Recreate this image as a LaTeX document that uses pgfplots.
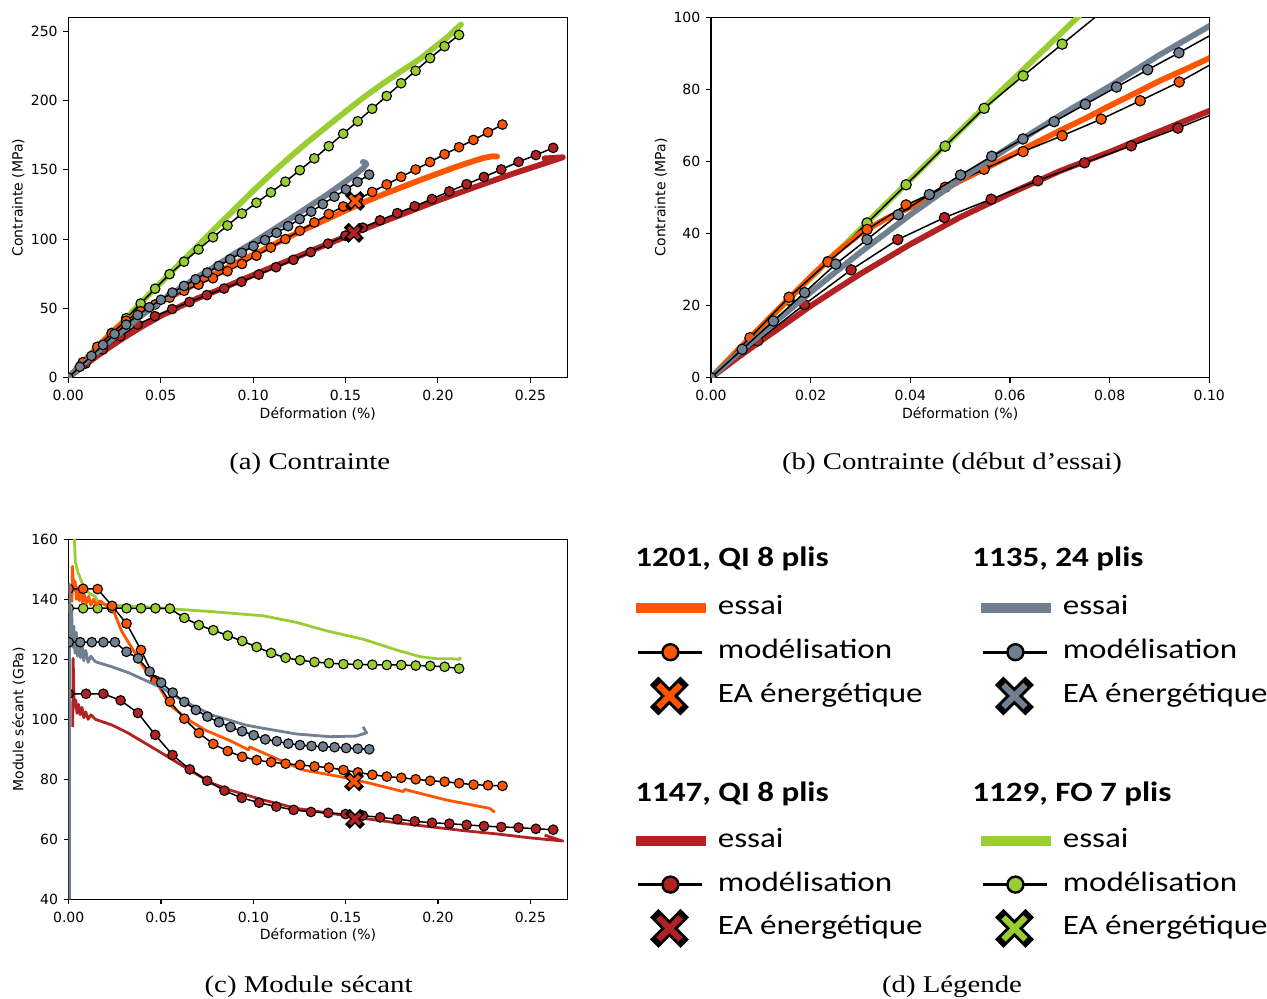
\documentclass[border=0pt]{standalone}
\usepackage{fontspec}
\setmainfont{DejaVu Sans}
\newfontfamily\capfont[FakeStretch=1.2]{Liberation Serif}
\newfontfamily\carlito[FakeStretch=1.18]{Carlito}
\usepackage{pgfplots}
\usepackage{pgfplotstable}
\pgfplotsset{compat=1.18}

\definecolor{cOr}{RGB}{255,85,0}
\definecolor{cGy}{RGB}{112,128,144}
\definecolor{cRd}{RGB}{178,34,34}
\definecolor{cGn}{RGB}{154,205,50}

% ---------- models (x = strain %, s = stress MPa, E = secant modulus GPa)
\pgfplotstableread{
x s E
0 0 143.5
0.00783 11.1 143.5
0.01566 22.3 143.4
0.02349 32.1 137.8
0.03132 41.1 131.9
0.03915 47.9 123.1
0.04698 52.8 112.9
0.05481 57.8 105.9
0.06264 62.7 100.2
0.07047 67.1 95.4
0.0783 71.7 91.8
0.08613 76.8 89.4
0.09396 82.0 87.5
0.10179 88.0 86.4
0.10962 93.9 85.7
0.11745 100.0 85.2
0.12528 106.0 84.8
0.13311 112.0 84.3
0.14094 118.1 83.9
0.14877 123.5 83.1
0.1566 128.7 82.3
0.16443 134.0 81.5
0.17226 139.4 80.9
0.18009 144.9 80.5
0.18792 150.2 80.0
0.19575 155.6 79.5
0.20358 161.2 79.2
0.21141 166.3 78.7
0.21924 171.5 78.2
0.22707 177.0 78.0
0.2349 182.6 77.8
}\modOr
\pgfplotstableread{
x s E
0 0 125.7
0.00626 7.87 125.7
0.01252 15.7 125.7
0.01878 23.6 125.7
0.02504 31.5 125.7
0.0313 38.3 122.5
0.03756 45.2 120.3
0.04382 50.8 115.9
0.05008 56.2 112.2
0.05634 61.4 108.9
0.0626 66.2 105.8
0.06886 71.0 103.1
0.07512 75.8 100.9
0.08138 80.6 99.0
0.08764 85.4 97.4
0.0939 90.1 96.0
0.10016 94.9 94.7
0.10642 99.3 93.3
0.11268 104.5 92.7
0.11894 109.3 91.9
0.1252 114.4 91.4
0.13146 119.8 91.1
0.13772 125.2 90.9
0.14398 130.6 90.7
0.15024 135.8 90.4
0.1565 141.2 90.2
0.16276 146.5 90.0
}\modGy
\pgfplotstableread{
x s E
0 0 108.5
0.00937 10.2 108.5
0.01874 20.3 108.5
0.02811 29.9 106.3
0.03748 38.3 102.1
0.04685 44.4 94.8
0.05622 49.5 88.1
0.06559 54.6 83.3
0.07496 59.6 79.5
0.08433 64.3 76.2
0.0937 69.2 73.8
0.10307 74.4 72.2
0.11244 79.7 70.9
0.12181 85.0 69.8
0.13118 90.6 69.1
0.14055 96.7 68.8
0.14992 102.5 68.4
0.15929 108.2 67.9
0.16866 113.5 67.3
0.17803 118.7 66.7
0.1874 123.7 66.0
0.19677 128.9 65.5
0.20614 134.4 65.2
0.21551 139.6 64.8
0.22488 144.8 64.4
0.23425 150.2 64.1
0.24362 155.7 63.9
0.25299 160.6 63.5
0.26236 165.8 63.2
}\modRd
\pgfplotstableread{
x s E
0 0 137.0
0.00783 10.7 137.0
0.01566 21.5 137.0
0.02349 32.2 137.1
0.03132 42.9 137.0
0.03915 53.5 137.0
0.04698 64.2 137.0
0.05481 74.7 136.9
0.06264 83.7 133.8
0.07047 92.5 131.4
0.0783 101.3 129.7
0.08613 109.8 127.9
0.09396 118.4 126.1
0.10179 126.2 124.1
0.10962 133.7 122.1
0.11745 141.4 120.5
0.12528 149.7 119.7
0.13311 158.2 119.1
0.14094 167.0 118.7
0.14877 176.0 118.4
0.1566 185.0 118.3
0.16443 194.0 118.2
0.17226 203.2 118.1
0.18009 212.4 118.1
0.18792 221.4 117.9
0.19575 230.5 117.8
0.20358 239.1 117.5
0.21141 247.3 116.9
}\modGn

% ---------- tests, stress
\pgfplotstableread{
x s
0 0
0.005 7.1
0.01 14.1
0.015 21.1
0.02 28.0
0.025 34.5
0.03 40.0
0.035 44.0
0.04 47.3
0.045 50.8
0.05 54.6
0.055 58.0
0.06 61.5
0.065 65.0
0.07 68.5
0.075 71.8
0.08 75.4
0.085 78.8
0.09 82.3
0.095 85.4
0.1 88.6
0.11 95.3
0.12 102.0
0.13 108.3
0.14 114.4
0.15 120.6
0.16 126.6
0.17 132.0
0.18 137.2
0.19 142.4
0.2 147.3
0.21 152.2
0.22 156.6
0.225 158.6
0.2295 159.7
0.232 159.6
}\essOrS
\pgfplotstableread{
x s
0 0
0.005 6.2
0.01 12.1
0.015 17.9
0.02 23.7
0.025 29.3
0.03 34.8
0.04 45.2
0.05 55.0
0.06 64.1
0.07 72.7
0.08 80.8
0.09 89.5
0.1 97.5
0.11 106.0
0.12 114.5
0.13 123.3
0.14 132.0
0.15 141.5
0.155 146.3
0.1595 151.0
0.1613 154.0
0.1605 155.3
0.1594 155.6
}\essGyS
\pgfplotstableread{
x s
0 0
0.005 5.2
0.01 10.2
0.015 15.0
0.02 19.9
0.025 24.4
0.03 28.8
0.035 32.9
0.04 37.0
0.05 44.5
0.06 51.1
0.07 57.3
0.08 62.6
0.09 68.3
0.1 74.0
0.11 79.6
0.12 85.0
0.13 90.7
0.14 96.3
0.15 101.7
0.16 107.2
0.17 112.4
0.18 117.5
0.19 122.7
0.2 127.8
0.21 132.7
0.22 137.5
0.23 142.2
0.24 146.9
0.25 151.3
0.26 155.6
0.2676 159.0
0.2577 158.2
}\essRdS
\pgfplotstableread{
x s
0 0
0.01 14.0
0.02 27.6
0.03 41.2
0.04 54.9
0.05 68.5
0.06 81.9
0.07 95.2
0.08 108.5
0.09 121.6
0.1 134.8
0.11 147.3
0.12 159.2
0.13 170.6
0.14 181.3
0.15 192.0
0.16 202.4
0.17 212.0
0.18 221.0
0.19 229.7
0.2 240.3
0.205 245.5
0.21 251.8
0.2125 254.8
}\essGnS

% ---------- tests, secant modulus
\pgfplotstableread{
x E
0.0018 139
0.0020 151
0.0028 143
0.0035 146
0.0042 140
0.0050 144
0.0058 139.5
0.0066 142.5
0.0075 139
0.0085 141.5
0.0095 138.5
0.0108 141
0.0120 138
0.0135 140
0.0150 138
0.0170 139.5
0.0200 138
0.0234 137.5
0.0260 133.5
0.0288 129.2
0.0315 126.5
0.0343 123.7
0.0370 121
0.0397 118
0.0450 113.7
0.0490 110.8
0.0530 106.5
0.0559 104.2
0.0600 102.2
0.0649 99.8
0.0739 96.4
0.0866 93.1
0.0974 89.8
0.0980 90.8
0.1143 86.4
0.1269 83.1
0.1468 80.9
0.1630 78.7
0.1811 75.9
0.1820 76.6
0.2045 73.1
0.2189 71.4
0.2280 70.3
0.2307 69.0
}\essOrE
\pgfplotstableread{
x E
0.0004 40
0.0004 145
0.0010 128
0.0016 136
0.0022 124
0.0028 131
0.0034 122
0.0041 129
0.0048 121
0.0056 127
0.0064 120.5
0.0072 125
0.0082 119.5
0.0092 123
0.0105 119
0.0120 121
0.0144 119.2
0.0234 117.5
0.0325 115.5
0.0415 113.0
0.0505 110.5
0.0595 107.0
0.0685 104.2
0.0775 101.4
0.0866 99.8
0.0956 98.1
0.1053 97.0
0.1234 95.1
0.1414 94.2
0.1558 94.4
0.1613 95.5
0.1594 97.5
}\essGyE
\pgfplotstableread{
x E
0.0022 97.5
0.0024 120.3
0.0030 104
0.0038 106.5
0.0045 102
0.0053 105
0.0062 101.5
0.0072 104
0.0082 100.5
0.0092 102.5
0.0105 100
0.0120 101.5
0.0144 100
0.0234 98.1
0.0325 95.3
0.0415 92.0
0.0505 88.7
0.0595 85.3
0.0685 82.0
0.0775 78.7
0.0873 76.4
0.1053 73.1
0.1234 70.3
0.1414 68.7
0.1594 67.0
0.1775 65.5
0.1955 64.2
0.2135 62.9
0.2316 61.8
0.2496 60.5
0.2676 59.4
0.2577 61.4
}\essRdE
\pgfplotstableread{
x E
0.0020 175
0.0036 152.5
0.0050 149
0.0063 147
0.0075 145
0.0090 143.7
0.0110 142
0.0144 140.9
0.0162 138.7
0.0234 138.1
0.0320 137.8
0.0415 137.5
0.0559 136.8
0.0700 136.2
0.0775 135.9
0.0891 135.3
0.1053 134.5
0.1234 132.3
0.1396 129.5
0.1594 126.7
0.1775 123.1
0.1901 120.9
0.1991 120.2
0.2060 120.2
0.2117 120.0
0.2120 120.8
}\essGnE

\pgfplotsset{
  mpl/.style={
    scale only axis, anchor=south west,
    tick align=outside, tick pos=left, major tick length=2.45pt,
    axis line style={line width=0.55pt},
    every tick/.append style={line width=0.55pt, black},
    /pgf/number format/assume math mode=true,
    tick label style={font=\fontsize{7}{8.4}\selectfont},
    xticklabel style={anchor=north, inner sep=0pt, yshift=-3.55pt,
      /pgf/number format/fixed, /pgf/number format/fixed zerofill,
      /pgf/number format/precision=2},
    yticklabel style={anchor=east, inner sep=0pt, xshift=-2.7pt},
    every axis x label/.style={at={(axis description cs:0.5,-0.1127)}, anchor=base,
      inner sep=0pt, font=\fontsize{7}{8.4}\selectfont},
    every axis y label/.style={at={(axis description cs:-0.1002,0.5)}, rotate=90, anchor=center,
      inner sep=0pt, font=\fontsize{7}{8.4}\selectfont},
    clip marker paths=true, scaled ticks=false,
  },
  essA/.style={draw=#1, line width=2.9pt, line join=round, line cap=round, no markers},
  essC/.style={draw=#1, line width=1.4pt, line join=round, no markers},
  modA/.style={black, line width=0.75pt, mark=*, mark size=2.4pt,
    mark options={fill=#1, draw=black, line width=0.55pt}},
  eaK/.style={only marks, mark=x, mark size=3.7pt, mark options={draw=black, line width=3.4pt, line cap=rect}},
  eaC/.style={only marks, mark=x, mark size=3.7pt, mark options={draw=#1, line width=1.9pt}},
  legblock/.style={hide axis, scale only axis, anchor=north west, width=100pt, height=60pt,
    xmin=0, xmax=1, ymin=0, ymax=1,
    legend cell align=left,
    legend style={at={(0,1)}, anchor=north west, draw=none, fill=none,
      inner sep=0pt, outer sep=0pt, row sep=6.5pt, column sep=5.5pt,
      font=\carlito\fontsize{14}{16.8}\selectfont,
      nodes={inner sep=0pt, outer sep=0pt, text height=10.8pt, text depth=4.2pt}}},
}
\newcommand{\legessai}[1]{\addlegendimage{legend image code/.code={%
  \path (0pt,-7.5pt) (35pt,7.5pt);
  \draw[overlay, draw=#1, line width=5pt] (0pt,0pt) -- (35pt,0pt);}}}
\newcommand{\legmodel}[1]{\addlegendimage{legend image code/.code={%
  \path (0pt,-7.5pt) (35pt,7.5pt);
  \draw[overlay, black, line width=1.5pt] (1pt,0pt) -- (33pt,0pt);
  \draw[overlay, black, line width=1.2pt, fill=#1] (17pt,0pt) circle (4pt);}}}
\newcommand{\legea}[1]{\addlegendimage{legend image code/.code={%
  \path (0pt,-7.5pt) (35pt,7.5pt);
  \draw[overlay, black, line width=6pt, line cap=rect] (11pt,-5.5pt) -- (22pt,5.5pt) (11pt,5.5pt) -- (22pt,-5.5pt);
  \draw[overlay, draw=#1, line width=3pt] (11pt,-5.5pt) -- (22pt,5.5pt) (11pt,5.5pt) -- (22pt,-5.5pt);}}}

\begin{document}
\begin{tikzpicture}
\useasboundingbox (0,0) rectangle (633.5pt,499.5pt);

% ================= (a)
\begin{axis}[mpl, at={(34.15pt,310.65pt)}, width=249.5pt, height=180.2pt,
  xmin=0, xmax=0.27, ymin=0, ymax=260,
  xtick={0,0.05,0.1,0.15,0.2,0.25}, ytick={0,50,100,150,200,250},
  xlabel={Déformation (\%)}, ylabel={Contrainte (MPa)}]
\addplot[essA=cGn] table[x=x,y=s] {\essGnS};
\addplot[modA=cGn] table[x=x,y=s] {\modGn};
\addplot[essA=cRd] table[x=x,y=s] {\essRdS};
\addplot[modA=cRd] table[x=x,y=s] {\modRd};
\addplot[essA=cOr] table[x=x,y=s] {\essOrS};
\addplot[modA=cOr] table[x=x,y=s] {\modOr};
\addplot[essA=cGy] table[x=x,y=s] {\essGyS};
\addplot[modA=cGy] table[x=x,y=s] {\modGy};
\addplot[eaK] coordinates {(0.1552,127.5)};
\addplot[eaC=cOr] coordinates {(0.1552,127.5)};
\addplot[eaK] coordinates {(0.1545,104.5)};
\addplot[eaC=cRd] coordinates {(0.1545,104.5)};
\end{axis}

% ================= (b)
\begin{axis}[mpl, at={(355.5pt,310.65pt)}, width=249.15pt, height=180.3pt,
  xmin=0, xmax=0.1, ymin=0, ymax=100,
  xtick={0,0.02,0.04,0.06,0.08,0.1}, ytick={0,20,40,60,80,100},
  xlabel={Déformation (\%)}, ylabel={Contrainte (MPa)}]
\addplot[essA=cGn] table[x=x,y=s] {\essGnS};
\addplot[modA=cGn, mark size=2.6pt] table[x=x,y=s] {\modGn};
\addplot[essA=cRd] table[x=x,y=s] {\essRdS};
\addplot[modA=cRd, mark size=2.6pt] table[x=x,y=s] {\modRd};
\addplot[essA=cOr] table[x=x,y=s] {\essOrS};
\addplot[modA=cOr, mark size=2.6pt] table[x=x,y=s] {\modOr};
\addplot[essA=cGy] table[x=x,y=s] {\essGyS};
\addplot[modA=cGy, mark size=2.6pt] table[x=x,y=s] {\modGy};
\end{axis}

% ================= (c)
\begin{axis}[mpl, at={(34.35pt,49.85pt)}, width=249.3pt, height=180pt,
  xmin=0, xmax=0.27, ymin=40, ymax=160,
  xtick={0,0.05,0.1,0.15,0.2,0.25}, ytick={40,60,80,100,120,140,160},
  xlabel={Déformation (\%)}, ylabel={Module sécant (GPa)}]
\addplot[essC=cGn] table[x=x,y=E] {\essGnE};
\addplot[modA=cGn] table[x=x,y=E] {\modGn};
\addplot[essC=cRd] table[x=x,y=E] {\essRdE};
\addplot[modA=cRd] table[x=x,y=E] {\modRd};
\addplot[essC=cOr] table[x=x,y=E] {\essOrE};
\addplot[modA=cOr] table[x=x,y=E] {\modOr};
\addplot[essC=cGy] table[x=x,y=E] {\essGyE};
\addplot[modA=cGy] table[x=x,y=E] {\modGy};
\addplot[eaK] coordinates {(0.1545,79.3)};
\addplot[eaC=cOr] coordinates {(0.1545,79.3)};
\addplot[eaK] coordinates {(0.155,66.8)};
\addplot[eaC=cRd] coordinates {(0.155,66.8)};
\end{axis}

% ================= (d) legend
\begin{axis}[legblock, at={(318pt,203pt)}]
\legessai{cOr}\addlegendentry{essai}
\legmodel{cOr}\addlegendentry{modélisation}
\legea{cOr}\addlegendentry{EA énergétique}
\end{axis}
\begin{axis}[legblock, at={(490.5pt,203pt)}]
\legessai{cGy}\addlegendentry{essai}
\legmodel{cGy}\addlegendentry{modélisation}
\legea{cGy}\addlegendentry{EA énergétique}
\end{axis}
\begin{axis}[legblock, at={(318pt,86.8pt)}]
\legessai{cRd}\addlegendentry{essai}
\legmodel{cRd}\addlegendentry{modélisation}
\legea{cRd}\addlegendentry{EA énergétique}
\end{axis}
\begin{axis}[legblock, at={(490.5pt,86.8pt)}]
\legessai{cGn}\addlegendentry{essai}
\legmodel{cGn}\addlegendentry{modélisation}
\legea{cGn}\addlegendentry{EA énergétique}
\end{axis}

\begin{scope}[every node/.style={inner sep=0pt, anchor=base west, font=\carlito\bfseries\fontsize{14}{16.8}\selectfont}]
\node at (317.5pt,216pt) {1201, QI 8 plis};
\node at (486pt,216pt) {1135, 24 plis};
\node at (317.5pt,98.5pt) {1147, QI 8 plis};
\node at (486pt,98.5pt) {1129, FO 7 plis};
\end{scope}

\begin{scope}[every node/.style={inner sep=0pt, anchor=base, font=\capfont\fontsize{12}{14.4}\selectfont}]
\node at (154.85pt,264.6pt) {(a) Contrainte};
\node at (476pt,264.6pt) {(b) Contrainte (début d’essai)};
\node at (154.3pt,3.2pt) {(c) Module sécant};
\node at (476pt,3.2pt) {(d) Légende};
\end{scope}
\end{tikzpicture}
\end{document}
